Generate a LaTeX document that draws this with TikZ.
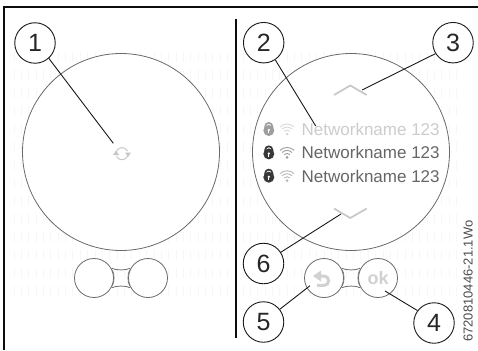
\documentclass[tikz,border=0pt]{standalone}
\usepackage{fontspec}
\setmainfont{Liberation Sans}
\usetikzlibrary{arrows.meta}
\definecolor{ringc}{gray}{0.42}
\definecolor{hatch}{gray}{0.97}
\tikzset{x=1pt,y=-1pt,
 frameln/.style={line width=2pt,black!95},
 ring/.style={draw=ringc,line width=0.8pt,fill=white},
 lead/.style={draw=black!90,line width=0.9pt},
 callout/.style={circle,draw=black!90,line width=0.9pt,fill=white,minimum size=40.5pt,inner sep=0pt,font=\fontsize{25}{25}\selectfont,text=black!85},
 net/.style={anchor=west,font=\fontsize{17}{18}\selectfont,inner sep=0pt},
 chev/.style={draw=black!22,line width=1.7pt},
 wifi/.style={line width=0.9pt}
}
\newcommand{\lockicon}[3]{%
 \fill[#3] (#1,#2+1.2) circle (5.5);
 \draw[#3,line width=1.7pt] (#1-3.6,#2) -- (#1-3.6,#2-2.8) arc[start angle=180,end angle=360,radius=3.6] -- (#1+3.6,#2);
 \fill[white] (#1,#2+0.8) circle (1.3);
 \fill[white] (#1-0.5,#2+0.8) rectangle (#1+0.5,#2+4);
}
\newcommand{\wifiicon}[3]{%
 \fill[#3] (#1,#2+4.7) circle (1.5);
 \draw[wifi,#3] (#1-2.8,#2+1.9) arc[start angle=225,end angle=315,radius=4];
 \draw[wifi,#3] (#1-4.9,#2-0.2) arc[start angle=225,end angle=315,radius=7];
 \draw[wifi,#3] (#1-7,#2-2.3) arc[start angle=225,end angle=315,radius=10];
}
\newcommand{\buttons}[2]{%
 \draw[ring] (#1+17.7,#2-9.7) .. controls (#1+23,#2-7.5) and (#1+31,#2-7.5) .. (#1+36.3,#2-9.7);
 \draw[ring] (#1+17.7,#2+9.7) .. controls (#1+23,#2+7.5) and (#1+31,#2+7.5) .. (#1+36.3,#2+9.7);
 \draw[ring] (#1,#2) circle (19.5);
 \draw[ring] (#1+54,#2) circle (19.5);
 \draw[ring,fill=none,line width=0.6pt] (#1+18.5,#2-8) arc[start angle=-23,end angle=23,radius=20.2];
 \draw[ring,fill=none,line width=0.6pt] (#1+35.5,#2-8) arc[start angle=203,end angle=157,radius=20.2];
}
\begin{document}
\begin{tikzpicture}
\useasboundingbox (0,0) rectangle (478,350);
\fill[white] (0,0) rectangle (478,350);
% faint pattern
\foreach \r in {0,...,13}{
 \foreach \c in {0,...,29}{
  \draw[hatch,line width=1pt] ({14+\c*7.37},{52+\r*18}) -- ++(0,10);
  \draw[hatch,line width=1pt] ({243+\c*7.37},{52+\r*18}) -- ++(0,10);
 }}
% frame
\draw[frameln] (4.3,350) -- (4.3,7) -- (478,7);
\draw[frameln] (236,19) -- (236,337.5);
% left panel
\node[circle,ring,minimum size=197pt,inner sep=0pt] (dispL) at (121,152) {};
\buttons{94}{278}
\coordinate (sync) at (113.3,143.3);
\begin{scope}[line width=1pt]
 \draw[black!22] (122,153.7) ++(200:6) arc[start angle=200,end angle=335,radius=6];
 \draw[black!22] (122,153.7) ++(20:6) arc[start angle=20,end angle=155,radius=6];
 \fill[black!22] (125,152.5) -- (131,152.5) -- (128,157) -- cycle;
 \fill[black!22] (113,155) -- (119,155) -- (116,150.5) -- cycle;
\end{scope}
\node[callout] (c1) at (35,43) {1};
\draw[lead] (c1.-48) -- (sync);
% right panel
\node[circle,ring,minimum size=197pt,inner sep=0pt] (dispR) at (351,152) {};
\buttons{324}{278}
\draw[chev] (334,95) -- (350.3,85.5) -- (366.7,95);
\draw[chev] (334,208.5) -- (350.3,218) -- (366.7,208.5);
\lockicon{268.8}{129.3}{black!38}
\wifiicon{287}{129.3}{black!15}
\lockicon{268.8}{152.7}{black!78}
\wifiicon{287}{152.7}{black!38}
\lockicon{268.8}{176}{black!78}
\wifiicon{287}{176}{black!28}
\node[net,text=black!20] (n1) at (301.5,129.3) {Networkname 123};
\node[net,text=black!60] (n2) at (301.5,152.7) {Networkname 123};
\node[net,text=black!60] (n3) at (301.5,176) {Networkname 123};
\coordinate (t2) at (315.7,126);
\coordinate (t3) at (362,90);
\coordinate (t6) at (341,214);
\coordinate (t5) at (310,285.7);
\coordinate (t4) at (385,291);
\node[callout] (c2) at (263.7,42.7) {2};
\node[callout] (c3) at (453,42.7) {3};
\node[callout] (c6) at (263.5,263.5) {6};
\node[callout] (c5) at (263.5,322) {5};
\node[callout] (c4) at (434,323) {4};
\draw[lead] (c2.-56) -- (t2);
\draw[lead] (c3.212) -- (t3);
\draw[lead] (c6.33) -- (t6);
\draw[lead] (c5.38) -- (t5);
\draw[lead] (c4.143) -- (t4);
\node[font=\bfseries\fontsize{18}{18}\selectfont,text=black!18,inner sep=0pt] (ok) at (378,278) {ok};
\draw[black!18,line width=3pt] (318,276) -- (324,276) arc[start angle=-90,end angle=90,radius=4.7] -- (317,285.4);
\fill[black!18] (313,276) -- (321,270.5) -- (321,281.5) -- cycle;
\node[rotate=90,anchor=base west,font=\fontsize{13}{14}\selectfont,text=black!70,inner sep=0pt] (code) at (472.5,342) {6720810446-21.1Wo};
\end{tikzpicture}
\end{document}
